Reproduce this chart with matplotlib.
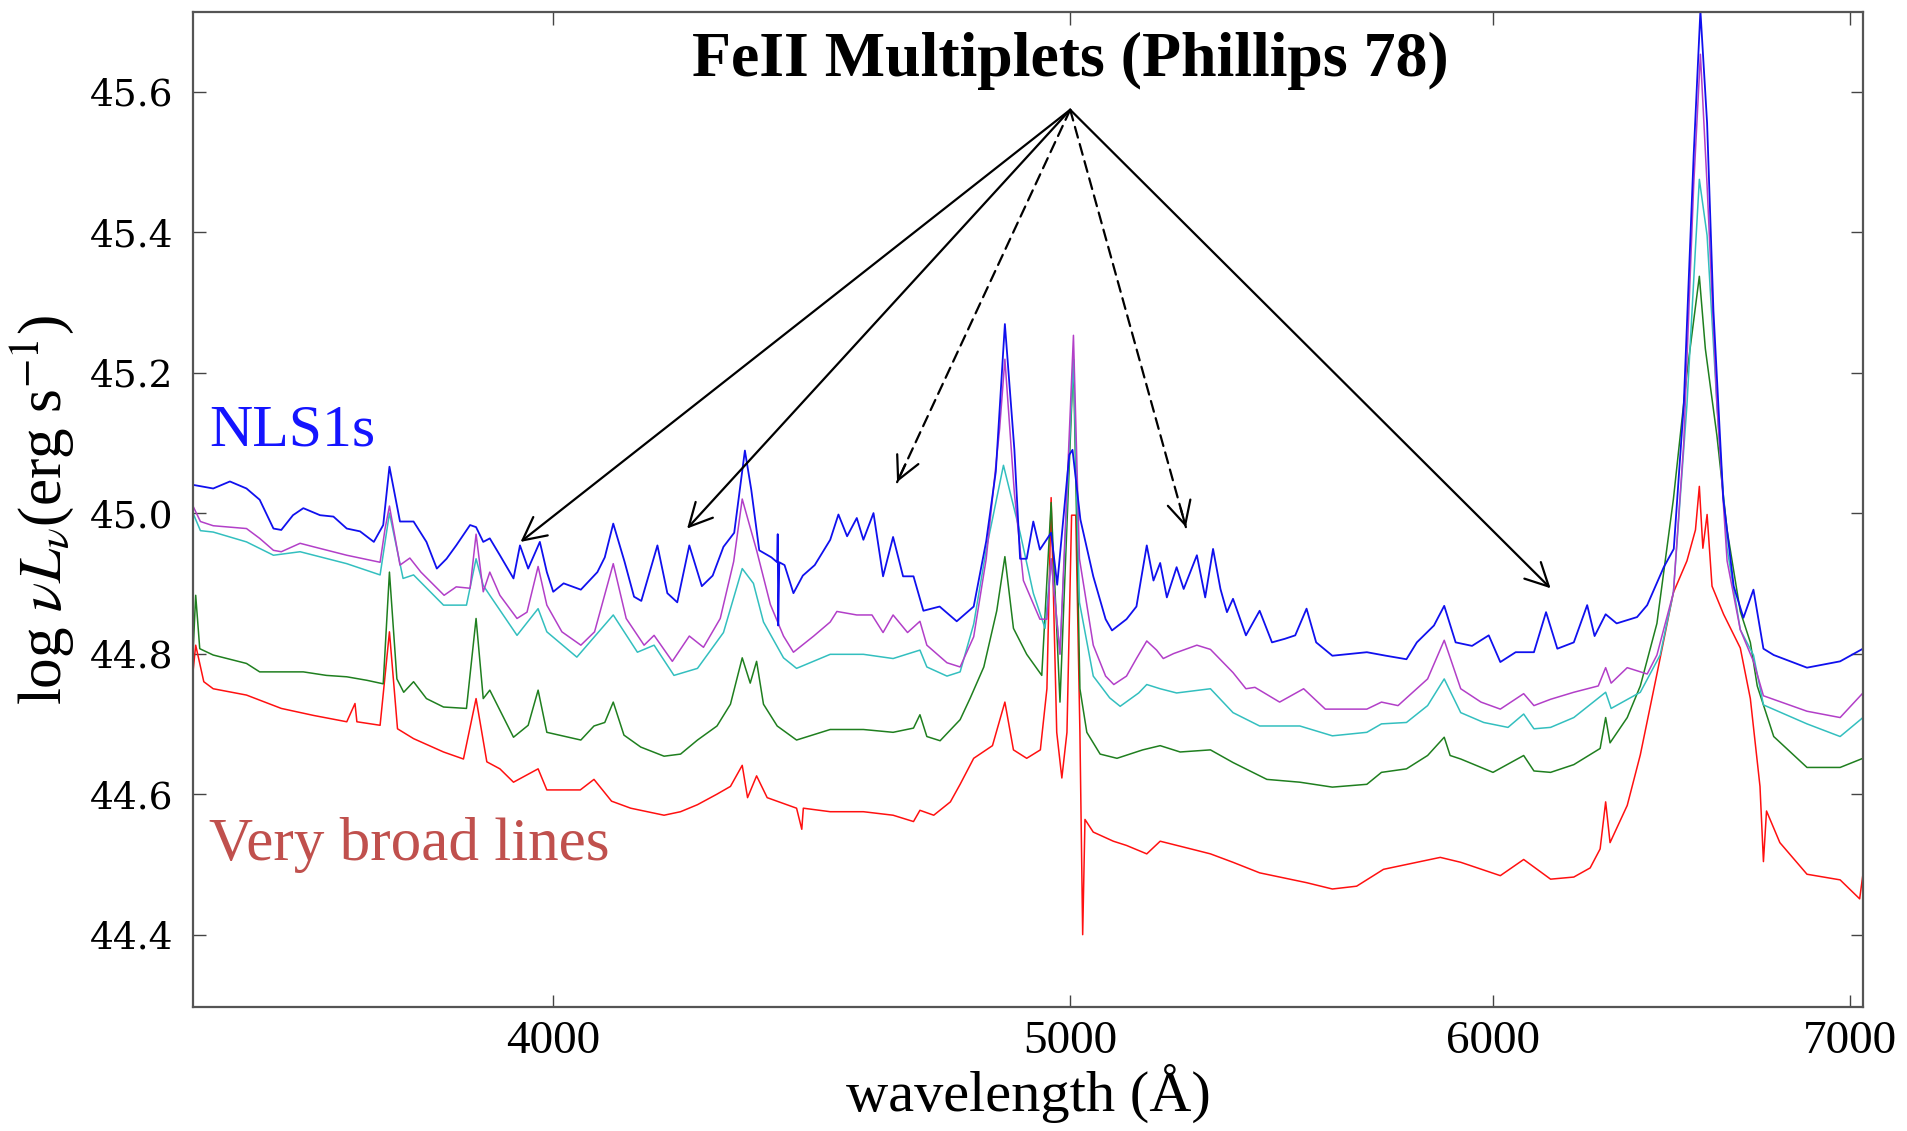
import numpy as np
import matplotlib
matplotlib.use("Agg")
import matplotlib.pyplot as plt
from matplotlib.ticker import FixedLocator, FuncFormatter, NullLocator

plt.rcParams['font.family'] = ['Liberation Serif', 'DejaVu Serif']
plt.rcParams['mathtext.fontset'] = 'stix'

# spectra: wavelength (A) and log nu L_nu
wl_blue = [3425, 3454, 3479, 3504, 3524, 3545, 3557, 3575, 3591, 3617, 3638, 3659, 3680, 3702, 3717,
           3727, 3744, 3766, 3787, 3804, 3820, 3836, 3859, 3869, 3881, 3892, 3909, 3932, 3943, 3957,
           3977, 3989, 4000, 4018, 4048, 4077, 4090, 4105, 4125, 4142, 4155, 4184, 4202, 4220, 4242,
           4265, 4285, 4305, 4325, 4345, 4357, 4372, 4395, 4406, 4407, 4408, 4410, 4420, 4437, 4455,
           4478, 4508, 4524, 4541, 4560, 4573, 4593, 4612, 4632, 4652, 4673, 4693, 4726, 4761, 4796,
           4822, 4842, 4861, 4881, 4893, 4907, 4921, 4935, 4959, 4972, 4998, 5005, 5022, 5050, 5077,
           5091, 5123, 5145, 5168, 5183, 5198, 5213, 5235, 5251, 5281, 5300, 5318, 5335, 5350, 5364,
           5394, 5426, 5455, 5485, 5510, 5537, 5560, 5599, 5683, 5730, 5781, 5807, 5850, 5876, 5905,
           5947, 5990, 6020, 6060, 6108, 6140, 6170, 6214, 6250, 6270, 6300, 6330, 6386, 6414, 6460,
           6488, 6516, 6544, 6563, 6582, 6600, 6628, 6658, 6686, 6715, 6744, 6774, 6872, 6971, 7040]
lum_blue = [45.040, 45.035, 45.045, 45.035, 45.019, 44.978, 44.976, 44.997, 45.007, 44.997, 44.995, 44.978,
            44.974, 44.959, 44.983, 45.066, 44.988, 44.988, 44.959, 44.921, 44.935, 44.954, 44.983, 44.980,
            44.959, 44.964, 44.940, 44.907, 44.954, 44.921, 44.959, 44.916, 44.888, 44.900, 44.891, 44.916,
            44.937, 44.985, 44.931, 44.881, 44.875, 44.954, 44.886, 44.873, 44.954, 44.896, 44.911, 44.952,
            44.972, 45.089, 45.033, 44.947, 44.937, 44.930, 44.970, 44.840, 44.930, 44.926, 44.886, 44.911,
            44.926, 44.962, 44.998, 44.967, 44.993, 44.962, 45.000, 44.910, 44.966, 44.910, 44.910, 44.861,
            44.867, 44.846, 44.867, 44.960, 45.059, 45.269, 45.090, 44.935, 44.935, 44.988, 44.948, 44.972,
            44.898, 45.083, 45.090, 44.991, 44.910, 44.849, 44.833, 44.849, 44.867, 44.954, 44.904, 44.929,
            44.880, 44.923, 44.892, 44.940, 44.880, 44.949, 44.892, 44.859, 44.878, 44.826, 44.861, 44.816,
            44.821, 44.826, 44.864, 44.816, 44.797, 44.802, 44.797, 44.792, 44.816, 44.840, 44.868, 44.816,
            44.811, 44.826, 44.788, 44.802, 44.802, 44.859, 44.807, 44.816, 44.869, 44.825, 44.856, 44.843,
            44.852, 44.869, 44.923, 44.949, 45.154, 45.510, 45.715, 45.555, 45.288, 45.021, 44.896, 44.851,
            44.891, 44.807, 44.798, 44.780, 44.789, 44.807]

wl_mag = [3424, 3435, 3454, 3504, 3524, 3545, 3557, 3586, 3607, 3659, 3712, 3720, 3727, 3744, 3760,
          3778, 3816, 3836, 3859, 3869, 3881, 3892, 3909, 3938, 3955, 3974, 3989, 4015, 4048, 4072,
          4105, 4128, 4160, 4178, 4211, 4242, 4268, 4299, 4324, 4340, 4367, 4393, 4418, 4437, 4476,
          4508, 4521, 4560, 4590, 4612, 4632, 4661, 4686, 4700, 4741, 4768, 4796, 4822, 4850, 4861,
          4881, 4900, 4935, 4950, 4959, 4978, 5007, 5020, 5050, 5077, 5095, 5123, 5145, 5168, 5190,
          5205, 5228, 5281, 5312, 5364, 5394, 5415, 5473, 5530, 5582, 5683, 5719, 5760, 5834, 5876,
          5918, 5970, 6020, 6081, 6108, 6152, 6214, 6280, 6300, 6315, 6359, 6414, 6441, 6487, 6516,
          6544, 6563, 6582, 6610, 6639, 6677, 6715, 6744, 6872, 6971, 7040]
lum_mag = [45.010, 44.988, 44.982, 44.978, 44.964, 44.947, 44.945, 44.957, 44.952, 44.940, 44.930, 44.978,
           45.010, 44.926, 44.936, 44.916, 44.883, 44.895, 44.893, 44.970, 44.888, 44.916, 44.883, 44.850,
           44.859, 44.924, 44.869, 44.831, 44.812, 44.831, 44.928, 44.850, 44.812, 44.826, 44.789, 44.825,
           44.809, 44.850, 44.931, 45.020, 44.947, 44.870, 44.825, 44.802, 44.825, 44.845, 44.860, 44.855,
           44.855, 44.830, 44.855, 44.830, 44.846, 44.812, 44.787, 44.781, 44.824, 44.935, 45.120, 45.219,
           45.028, 44.904, 44.849, 44.849, 44.935, 44.799, 45.253, 44.935, 44.812, 44.768, 44.756, 44.768,
           44.793, 44.818, 44.805, 44.793, 44.800, 44.812, 44.806, 44.773, 44.750, 44.752, 44.731, 44.750,
           44.721, 44.721, 44.731, 44.726, 44.764, 44.819, 44.750, 44.731, 44.721, 44.743, 44.726, 44.735,
           44.745, 44.754, 44.780, 44.758, 44.780, 44.771, 44.798, 44.887, 45.100, 45.466, 45.653, 45.466,
           45.154, 44.932, 44.834, 44.789, 44.740, 44.718, 44.709, 44.744]

wl_cyan = [3424, 3435, 3454, 3504, 3545, 3586, 3659, 3712, 3727, 3749, 3766, 3815, 3853, 3869, 3881,
           3892, 3938, 3974, 3989, 4041, 4105, 4148, 4178, 4214, 4257, 4305, 4340, 4361, 4380, 4418,
           4443, 4508, 4573, 4632, 4686, 4700, 4741, 4768, 4796, 4822, 4858, 4893, 4921, 4946, 4959,
           4978, 5007, 5020, 5050, 5086, 5109, 5150, 5168, 5198, 5235, 5312, 5364, 5426, 5521, 5599,
           5683, 5719, 5781, 5834, 5876, 5918, 5977, 6040, 6081, 6108, 6152, 6214, 6300, 6315, 6395,
           6450, 6487, 6525, 6549, 6560, 6582, 6610, 6639, 6677, 6715, 6744, 6872, 6971, 7040]
lum_cyan = [45.000, 44.975, 44.973, 44.959, 44.940, 44.945, 44.928, 44.912, 45.000, 44.907, 44.912, 44.869,
            44.869, 44.935, 44.897, 44.883, 44.826, 44.864, 44.831, 44.795, 44.855, 44.802, 44.812, 44.769,
            44.779, 44.830, 44.921, 44.900, 44.845, 44.794, 44.779, 44.799, 44.799, 44.793, 44.805, 44.781,
            44.768, 44.774, 44.842, 44.948, 45.068, 44.972, 44.886, 44.836, 44.935, 44.800, 45.219, 44.873,
            44.768, 44.737, 44.725, 44.744, 44.756, 44.750, 44.744, 44.750, 44.716, 44.697, 44.697, 44.683,
            44.688, 44.700, 44.702, 44.726, 44.764, 44.716, 44.702, 44.695, 44.714, 44.693, 44.695, 44.709,
            44.745, 44.722, 44.745, 44.798, 44.887, 45.154, 45.377, 45.475, 45.395, 45.154, 44.950, 44.834,
            44.798, 44.727, 44.700, 44.682, 44.709]

wl_green = [3424, 3428, 3434, 3454, 3504, 3524, 3557, 3591, 3627, 3659, 3691, 3717, 3727, 3739, 3750,
            3766, 3787, 3815, 3853, 3869, 3881, 3892, 3932, 3957, 3974, 3989, 4048, 4071, 4090, 4105,
            4124, 4154, 4196, 4226, 4257, 4293, 4318, 4340, 4355, 4367, 4380, 4406, 4443, 4508, 4573,
            4632, 4673, 4686, 4700, 4727, 4768, 4789, 4817, 4844, 4861, 4879, 4907, 4939, 4959, 4978,
            5007, 5021, 5036, 5065, 5102, 5159, 5198, 5243, 5312, 5364, 5443, 5521, 5599, 5683, 5719,
            5781, 5834, 5876, 5891, 5918, 6001, 6081, 6108, 6152, 6214, 6285, 6300, 6312, 6359, 6395,
            6441, 6487, 6525, 6560, 6577, 6610, 6639, 6677, 6706, 6726, 6774, 6872, 6971, 7040]
lum_green = [44.800, 44.883, 44.807, 44.798, 44.786, 44.774, 44.774, 44.774, 44.769, 44.767, 44.762, 44.757,
             44.916, 44.764, 44.745, 44.760, 44.736, 44.724, 44.722, 44.850, 44.736, 44.748, 44.681, 44.698,
             44.748, 44.688, 44.677, 44.697, 44.702, 44.731, 44.684, 44.667, 44.654, 44.657, 44.677, 44.697,
             44.728, 44.794, 44.758, 44.789, 44.728, 44.697, 44.677, 44.692, 44.692, 44.688, 44.694, 44.713,
             44.682, 44.676, 44.706, 44.737, 44.781, 44.861, 44.938, 44.836, 44.799, 44.769, 45.015, 44.731,
             45.219, 44.750, 44.688, 44.657, 44.651, 44.663, 44.669, 44.660, 44.663, 44.645, 44.621, 44.617,
             44.610, 44.614, 44.631, 44.636, 44.655, 44.681, 44.655, 44.650, 44.631, 44.655, 44.633, 44.631,
             44.642, 44.665, 44.709, 44.673, 44.709, 44.754, 44.843, 45.020, 45.199, 45.337, 45.234, 45.110,
             44.976, 44.860, 44.816, 44.754, 44.682, 44.638, 44.638, 44.651]

wl_red = [3424, 3428, 3440, 3454, 3504, 3557, 3607, 3659, 3672, 3675, 3712, 3727, 3740, 3766, 3815,
          3848, 3869, 3887, 3909, 3932, 3974, 3989, 4047, 4071, 4102, 4136, 4196, 4226, 4257, 4293,
          4318, 4340, 4350, 4367, 4387, 4443, 4453, 4456, 4508, 4573, 4632, 4673, 4686, 4714, 4748,
          4768, 4796, 4835, 4861, 4879, 4907, 4936, 4950, 4959, 4971, 4982, 4993, 5003, 5012, 5021,
          5027, 5032, 5050, 5094, 5123, 5168, 5198, 5274, 5312, 5364, 5426, 5537, 5599, 5658, 5724,
          5807, 5866, 5918, 6020, 6081, 6152, 6214, 6258, 6285, 6300, 6312, 6359, 6395, 6441, 6487,
          6525, 6549, 6560, 6570, 6582, 6596, 6629, 6677, 6706, 6734, 6744, 6753, 6792, 6872, 6971,
          7030, 7040]
lum_red = [44.774, 44.812, 44.760, 44.750, 44.741, 44.722, 44.712, 44.703, 44.729, 44.703, 44.698, 44.831,
           44.693, 44.679, 44.660, 44.650, 44.736, 44.646, 44.636, 44.617, 44.636, 44.606, 44.606, 44.621,
           44.590, 44.580, 44.570, 44.575, 44.585, 44.600, 44.611, 44.641, 44.595, 44.626, 44.595, 44.580,
           44.550, 44.580, 44.575, 44.575, 44.570, 44.561, 44.577, 44.570, 44.589, 44.614, 44.651, 44.669,
           44.731, 44.663, 44.651, 44.663, 44.750, 45.022, 44.688, 44.623, 44.688, 44.997, 44.997, 44.688,
           44.400, 44.564, 44.546, 44.533, 44.527, 44.515, 44.533, 44.521, 44.515, 44.503, 44.488, 44.474,
           44.465, 44.469, 44.493, 44.503, 44.510, 44.503, 44.484, 44.507, 44.479, 44.482, 44.495, 44.522,
           44.589, 44.531, 44.584, 44.656, 44.771, 44.887, 44.932, 44.976, 45.038, 44.950, 44.998, 44.896,
           44.856, 44.808, 44.736, 44.611, 44.504, 44.576, 44.531, 44.486, 44.478, 44.451, 44.486]

# FeII arrows: apex and targets
apex = (5000, 45.574)
solid_targets = [(3944, 44.959), (4238, 44.978), (6152, 44.893)]
dashed_targets = [(4640, 45.044), (5256, 44.980)]

xticks = [4000, 5000, 6000, 7000]
yticks = [44.4, 44.6, 44.8, 45.0, 45.2, 45.4, 45.6]

fig = plt.figure(figsize=(19.07, 11.31), dpi=100)
ax = fig.add_axes([0.1012, 0.1096, 0.8757, 0.8797])

ax.plot(wl_red, lum_red, color='#ff1010', lw=1.1)
ax.plot(wl_green, lum_green, color='#1f7f1f', lw=1.1)
ax.plot(wl_cyan, lum_cyan, color='#33bfbf', lw=1.1)
ax.plot(wl_mag, lum_mag, color='#b23fc8', lw=1.1)
ax.plot(wl_blue, lum_blue, color='#1010ee', lw=1.3)

ax.set_xscale('log')
ax.set_xlim(3424, 7040)
ax.set_ylim(44.297, 45.713)
ax.xaxis.set_major_locator(FixedLocator(xticks))
ax.xaxis.set_minor_locator(NullLocator())
ax.xaxis.set_major_formatter(FuncFormatter(lambda v, p: '%d' % v))
ax.set_yticks(yticks)
ax.yaxis.set_major_formatter(FuncFormatter(lambda v, p: '%.1f' % v))
ax.tick_params(direction='in', length=9, width=1, top=True, right=True, color='#444444')
ax.tick_params(axis='x', labelsize=34, pad=10)
ax.tick_params(axis='y', pad=14)
for lab in ax.get_yticklabels():
    lab.set_fontfamily('DejaVu Serif')
    lab.set_fontsize(27)
for sp in ax.spines.values():
    sp.set_color('#555555')
    sp.set_linewidth(1.6)

ax.set_xlabel('wavelength (Å)', fontsize=42, labelpad=0)
ax.set_ylabel(r'log $\nu L_\nu$(erg s$^{-1}$)', fontsize=44, labelpad=10)

ax.text(5000, 45.644, 'FeII Multiplets (Phillips 78)', ha='center', va='center',
        fontsize=46, fontweight='bold')
ax.text(3448, 45.096, 'NLS1s', color='#1414ff', fontsize=43, ha='left', va='baseline')
ax.text(3448, 44.506, 'Very broad lines', color='#c0504d', fontsize=44, ha='left', va='baseline')

head = '->,head_length=0.55,head_width=0.28'
for t in solid_targets:
    ax.annotate('', xy=t, xytext=apex,
                arrowprops=dict(arrowstyle=head, lw=1.6, color='k', mutation_scale=30,
                                shrinkA=0, shrinkB=0))

fig.canvas.draw()
for t in dashed_targets:
    ax.annotate('', xy=t, xytext=apex,
                arrowprops=dict(arrowstyle='-', lw=1.6, color='k', linestyle=(0, (5, 3)),
                                shrinkA=0, shrinkB=0))
    p0 = ax.transData.transform(apex)
    p1 = ax.transData.transform(t)
    d = (p0 - p1) / np.hypot(*(p0 - p1)) * 14
    ax.annotate('', xy=t, xytext=(d[0], d[1]), textcoords='offset points',
                arrowprops=dict(arrowstyle=head, lw=1.6, color='k', mutation_scale=30,
                                shrinkA=0, shrinkB=0))

fig.savefig('out.png', dpi=100)
